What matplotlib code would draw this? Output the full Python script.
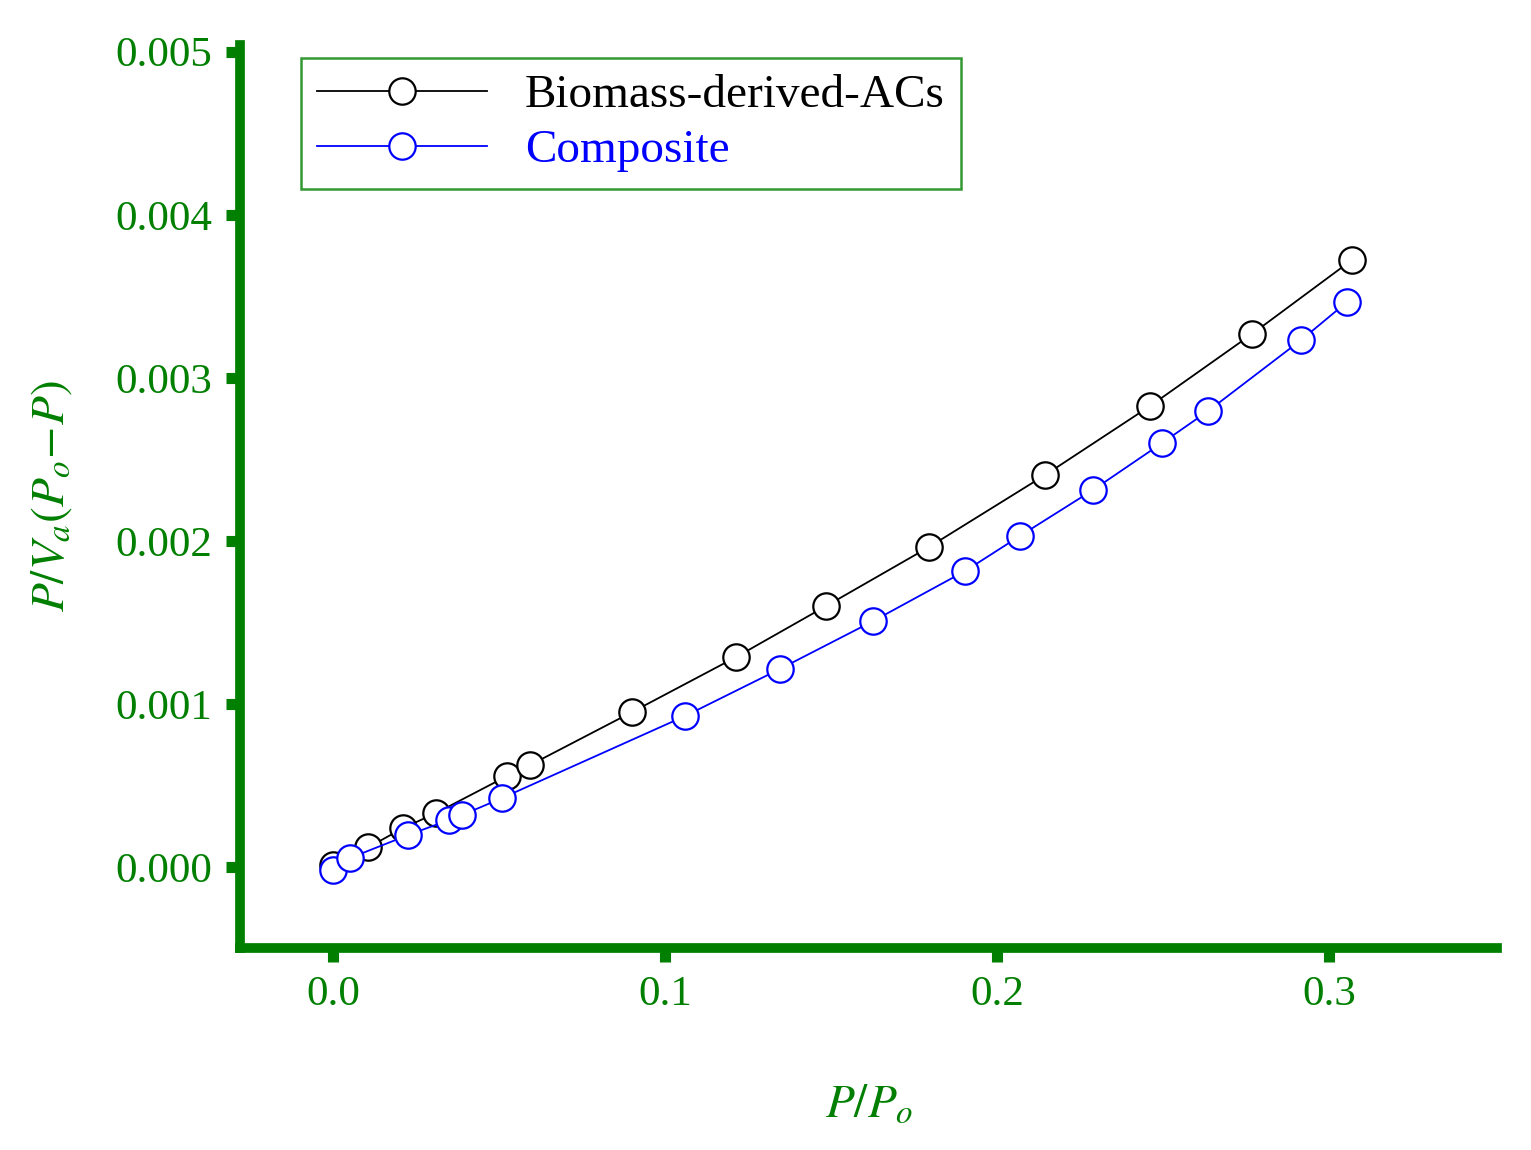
import matplotlib
matplotlib.use("Agg")
import matplotlib.pyplot as plt
from matplotlib.lines import Line2D

plt.rcParams['font.family'] = ['Liberation Serif', 'DejaVu Serif']
plt.rcParams['mathtext.fontset'] = 'stix'

bio_x = [0, 0.0105, 0.0211, 0.0310, 0.0524, 0.0593, 0.0901, 0.1214, 0.1485, 0.1795, 0.2145, 0.2461, 0.2768, 0.3069]
bio_y = [0.0000123, 0.00012, 0.000239, 0.000331, 0.000558, 0.000625, 0.000951, 0.001288, 0.001601, 0.001963, 0.002405, 0.002828, 0.003270, 0.003724]
comp_x = [0, 0.0051, 0.0226, 0.0349, 0.0389, 0.0509, 0.1060, 0.1346, 0.1627, 0.1904, 0.2069, 0.2289, 0.2497, 0.2636, 0.2916, 0.3054]
comp_y = [-0.0000184, 0.0000552, 0.000196, 0.000288, 0.000319, 0.000423, 0.000926, 0.001215, 0.001509, 0.001816, 0.002031, 0.002313, 0.002601, 0.002798, 0.003233, 0.003466]
xticks = [0.0, 0.1, 0.2, 0.3]
xticklabels = ['0.0', '0.1', '0.2', '0.3']
yticks = [0.000, 0.001, 0.002, 0.003, 0.004, 0.005]
yticklabels = ['0.000', '0.001', '0.002', '0.003', '0.004', '0.005']

green = '#007f00'
fig = plt.figure(figsize=(15.31, 11.5), dpi=100)
ax = fig.add_axes([0.157, 0.1757, 0.821, 0.785])
mk = dict(marker='o', markersize=19, markerfacecolor='white', markeredgewidth=1.6, linewidth=1.3)
ax.plot(bio_x, bio_y, color='black', **mk)
ax.plot(comp_x, comp_y, color='blue', **mk)
ax.set_xlim(-0.028, 0.3506)
ax.set_ylim(-0.000497, 0.00504)
ax.set_xticks(xticks)
ax.set_xticklabels(xticklabels)
ax.set_yticks(yticks)
ax.set_yticklabels(yticklabels)
for s in ['top', 'right']:
    ax.spines[s].set_visible(False)
for s in ['left', 'bottom']:
    ax.spines[s].set_color(green)
    ax.spines[s].set_linewidth(7)
ax.tick_params(colors=green, labelcolor=green, labelsize=31, length=10, width=8, direction='out', pad=10)
ax.set_xlabel(r'$P/P_o$', color=green, fontsize=34, labelpad=50)
ax.set_ylabel(r'$P/V_a(P_o\!-\!P)$', color=green, fontsize=34, labelpad=30)

handles = [Line2D([], [], color='black', **mk), Line2D([], [], color='blue', **mk)]
leg = ax.legend(handles, ['Biomass-derived-ACs', 'Composite'], loc='upper left',
                bbox_to_anchor=(0.048, 0.986), borderaxespad=0, fontsize=34, fancybox=False,
                edgecolor=green, handlelength=3.6, borderpad=0.35, labelspacing=0.25,
                handletextpad=0.8)
leg.get_frame().set_linewidth(1.8)
for t, c in zip(leg.get_texts(), ['black', 'blue']):
    t.set_color(c)
fig.savefig('out.png', dpi=100)
